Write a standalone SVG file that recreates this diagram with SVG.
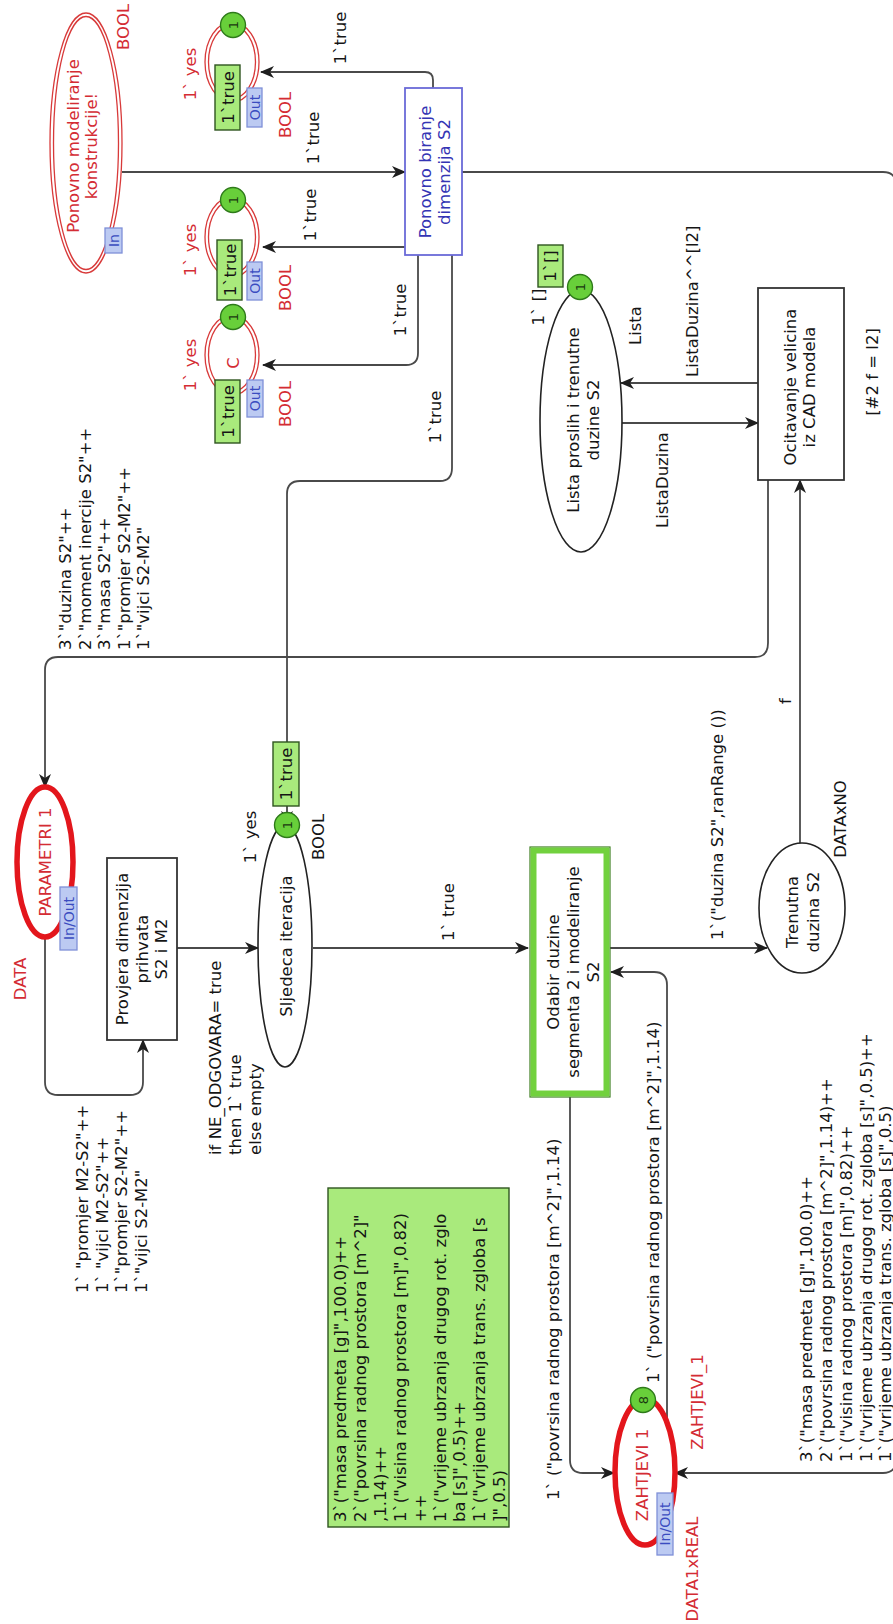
<svg xmlns="http://www.w3.org/2000/svg" width="893" height="1624" viewBox="0 0 893 1624">
<style>
.t{font-family:"DejaVu Sans","Liberation Sans",sans-serif;font-size:16.5px;fill:#151515}
.m{text-anchor:middle}
.red{fill:#d42c34}
.blu{fill:#3434b4}
.tag{font-family:"DejaVu Sans","Liberation Sans",sans-serif;font-size:14px;fill:#3a4cc0;text-anchor:middle}
.tagr{fill:#bccaf2;stroke:#7f90d8;stroke-width:1.3}
.arc{fill:none;stroke:#4a4a4a;stroke-width:1.8;marker-end:url(#ah)}
.dbl{fill:none;stroke:#d83a3a;stroke-width:1.3}
.pl{fill:#fff;stroke:#222;stroke-width:1.6}
.port{fill:#fff;stroke:#e3161c;stroke-width:5.5}
.tr{fill:#fff;stroke:#333;stroke-width:1.8}
.tok{fill:#68cf3a;stroke:#2e7a1a;stroke-width:1.4}
.tokt{font-family:"DejaVu Sans","Liberation Sans",sans-serif;font-size:13px;fill:#1a3a10;text-anchor:middle}
.mk{fill:#a9ea7c;stroke:#2f5520;stroke-width:1.4}
</style>
<defs>
<marker id="ah" viewBox="0 0 14 12" refX="13" refY="6" markerWidth="14" markerHeight="12" orient="auto" markerUnits="userSpaceOnUse">
<path d="M0,0 L14,6 L0,12 L4,6 z" fill="#1e1e1e"/>
</marker>
</defs>
<rect width="893" height="1624" fill="#fff"/>
<g transform="translate(0 1624) rotate(-90)">
<g id="connectors">
<path class="arc" d="M1452,122 L1452,405"/>
<path class="arc" d="M1536,433 L1544,433 Q1552,433 1552,425 L1552,261"/>
<path class="arc" d="M1377,405 L1377,263"/>
<path class="arc" d="M1369,418 L1271,418 Q1259,418 1259,406 L1259,263"/>
<path class="arc" d="M1369,452 L1156,452 Q1143,452 1143,440 L1143,300 Q1143,287 1130,287 L800,287"/>
<path class="arc" d="M1144,768 L981,768 Q967,768 967,755 L967,58 Q967,45 954,45 L837,45"/>
<path class="arc" d="M687,45 L542,45 Q529,45 529,58 L529,130 Q529,143 542,143 L584,143"/>
<path class="arc" d="M676,177 L676,258"/>
<path class="arc" d="M676,313 L676,528"/>
<path class="arc" d="M676,610 L676,767"/>
<path class="arc" d="M781,800 L1144,800"/>
<path class="arc" d="M1241,758 L1241,621"/>
<path class="arc" d="M1201,622 L1201,758"/>
<path class="arc" d="M1452,462 L1452,883 Q1452,896 1439,896 L164,896 Q151,896 151,883 L151,675"/>
<path class="arc" d="M527,570 L164,570 Q151,570 151,583 L151,614"/>
<path class="arc" d="M202,667 L639,667 Q652,667 652,654 L652,611"/>
<text class="t m" x="1486" y="319">1`true</text>
<text class="t m" x="1586" y="346">1`true</text>
<text class="t m" x="1409" y="316">1`true</text>
<text class="t m" x="1314" y="406">1`true</text>
<text class="t m" x="1207" y="441">1`true</text>
<text class="t" x="974" y="71">3`"duzina S2"++<tspan x="974" dy="19.5">2`"moment inercije S2"++</tspan><tspan x="974" dy="19.5">3`"masa S2"++</tspan><tspan x="974" dy="19.5">1`"promjer S2-M2"++</tspan><tspan x="974" dy="19.5">1`"vijci S2-M2"</tspan></text>
<text class="t" x="331" y="88">1` "promjer M2-S2"++<tspan x="331" dy="19.5">1` "vijci M2-S2"++</tspan><tspan x="331" dy="19.5">1`"promjer S2-M2"++</tspan><tspan x="331" dy="19.5">1`"vijci S2-M2"</tspan></text>
<text class="t" x="469" y="221">if NE_ODGOVARA= true<tspan x="469" dy="20">then 1` true</tspan><tspan x="469" dy="20">else empty</tspan></text>
<text class="t m" x="712" y="454">1` true</text>
<text class="t" x="684" y="723">1`("duzina S2",ranRange ())</text>
<text class="t" x="920" y="791">f</text>
<text class="t" x="1247" y="698">ListaDuzina^^[l2]</text>
<text class="t" x="1279" y="641">Lista</text>
<text class="t" x="1096" y="668">ListaDuzina</text>
<text class="t" x="162" y="812">3`("masa predmeta [g]",100.0)++<tspan x="162" dy="20">2`("povrsina radnog prostora [m^2]",1.14)++</tspan><tspan x="162" dy="20">1`("visina radnog prostora [m]",0.82)++</tspan><tspan x="162" dy="20">1`("vrijeme ubrzanja drugog rot. zgloba [s]",0.5)++</tspan><tspan x="162" dy="19">1`("vrijeme ubrzanja trans. zgloba [s]",0.5)</tspan></text>
<text class="t" x="124" y="559">1` ("povrsina radnog prostora [m^2]",1.14)</text>
<text class="t" x="241" y="659">1` ("povrsina radnog prostora [m^2]",1.14)</text>
</g>
<g id="nodes">
<g id="ponovno_modeliranje">
<ellipse cx="1481" cy="86" rx="130" ry="36" class="pl" style="stroke:none"/>
<ellipse cx="1481" cy="86" rx="130" ry="36" class="dbl"/>
<ellipse cx="1481" cy="86" rx="126.5" ry="32.5" class="dbl"/>
<text class="t m red" x="1478" y="79">Ponovno modeliranje<tspan x="1478" dy="17.5">konstrukcije!</tspan></text>
<rect class="tagr" x="1371" y="105" width="25" height="17"/>
<text class="tag" x="1383.5" y="118.5">In</text>
<text class="t m red" x="1597" y="129">BOOL</text>
</g>
<g id="ponovno_biranje">
<rect x="1369" y="405" width="167" height="57" fill="#fff" stroke="#6a6ad8" stroke-width="1.8"/>
<text class="t m blu" x="1452" y="431">Ponovno biranje<tspan x="1452" dy="19">dimenzija S2</tspan></text>
</g>
<g id="place_a">
<ellipse cx="1562" cy="232" rx="40" ry="27" fill="#fff"/>
<ellipse cx="1562" cy="232" rx="40" ry="27" class="dbl"/>
<ellipse cx="1562" cy="232" rx="36.5" ry="23.5" class="dbl"/>
<circle class="tok" cx="1599" cy="233" r="12.5"/>
<text class="tokt" x="1599" y="237.5">1</text>
<rect class="mk" x="1494" y="215" width="65" height="25"/>
<text class="t m" x="1526.5" y="233.5">1`true</text>
<rect class="tagr" x="1497" y="247" width="39" height="15"/>
<text class="tag" x="1516.5" y="259.5">Out</text>
<text class="t m red" x="1509" y="291">BOOL</text>
<text class="t m red" x="1550" y="196">1` yes</text>
</g>
<g id="place_b">
<ellipse cx="1387" cy="232" rx="40" ry="27" fill="#fff"/>
<ellipse cx="1387" cy="232" rx="40" ry="27" class="dbl"/>
<ellipse cx="1387" cy="232" rx="36.5" ry="23.5" class="dbl"/>
<circle class="tok" cx="1424" cy="233" r="12.5"/>
<text class="tokt" x="1424" y="237.5">1</text>
<rect class="mk" x="1324" y="217" width="60" height="25"/>
<text class="t m" x="1354" y="235.5">1`true</text>
<rect class="tagr" x="1324" y="247" width="38" height="15"/>
<text class="tag" x="1343" y="259.5">Out</text>
<text class="t m red" x="1336" y="291">BOOL</text>
<text class="t m red" x="1374" y="196">1` yes</text>
</g>
<g id="place_c">
<ellipse cx="1269" cy="232" rx="40" ry="27" fill="#fff"/>
<ellipse cx="1269" cy="232" rx="40" ry="27" class="dbl"/>
<ellipse cx="1269" cy="232" rx="36.5" ry="23.5" class="dbl"/>
<circle class="tok" cx="1307" cy="233" r="12.5"/>
<text class="tokt" x="1307" y="237.5">1</text>
<text class="t m red" x="1261" y="239">C</text>
<rect class="mk" x="1181" y="215" width="63" height="25"/>
<text class="t m" x="1212.5" y="233.5">1`true</text>
<rect class="tagr" x="1207" y="247" width="37" height="16"/>
<text class="tag" x="1225.5" y="260">Out</text>
<text class="t m red" x="1220" y="291">BOOL</text>
<text class="t m red" x="1259" y="196">1` yes</text>
</g>
<g id="parametri">
<ellipse class="port" cx="762" cy="45" rx="75" ry="28"/>
<text class="t m red" x="762" y="51">PARAMETRI 1</text>
<rect class="tagr" x="674" y="60" width="63" height="17"/>
<text class="tag" x="705.5" y="73.5">In/Out</text>
<text class="t m red" x="645" y="26">DATA</text>
</g>
<g id="provjera">
<rect class="tr" x="584" y="107" width="182" height="70"/>
<text class="t m" x="675" y="128">Provjera dimenzija<tspan x="675" dy="19.5">prihvata</tspan><tspan x="675" dy="19.5">S2 i M2</tspan></text>
</g>
<g id="sljedeca">
<ellipse class="pl" cx="678" cy="285" rx="121" ry="27"/>
<text class="t m" x="678" y="292">Sljedeca iteracija</text>
<circle class="tok" cx="799" cy="287" r="12.5"/>
<text class="tokt" x="799" y="291.5">1</text>
<rect class="mk" x="818" y="273" width="64" height="26"/>
<text class="t m" x="850" y="292">1`true</text>
<text class="t m" x="787" y="256">1` yes</text>
<text class="t m" x="787" y="324">BOOL</text>
</g>
<g id="odabir">
<rect x="527" y="530" width="250" height="80" fill="#fff" stroke="#3f7f22" stroke-width="1.2"/>
<rect x="530.5" y="533.5" width="243" height="73" fill="none" stroke="#72d13e" stroke-width="6"/>
<text class="t m" x="652" y="559">Odabir duzine<tspan x="652" dy="20">segmenta 2 i modeliranje</tspan><tspan x="652" dy="20">S2</tspan></text>
</g>
<g id="trenutna">
<ellipse class="pl" cx="716" cy="802" rx="65" ry="43"/>
<text class="t m" x="712" y="798">Trenutna<tspan x="712" dy="21">duzina S2</tspan></text>
<text class="t m" x="805" y="846">DATAxNO</text>
</g>
<g id="ocitavanje">
<rect class="tr" x="1144" y="758" width="192" height="86"/>
<text class="t m" x="1237" y="796">Ocitavanje velicina<tspan x="1237" dy="19">iz CAD modela</tspan></text>
<text class="t m" x="1252" y="878">[#2 f = l2]</text>
</g>
<g id="lista">
<ellipse class="pl" cx="1203" cy="581" rx="131" ry="41"/>
<text class="t m" x="1204" y="579">Lista proslih i trenutne<tspan x="1204" dy="20">duzine S2</tspan></text>
<circle class="tok" cx="1337" cy="580" r="12.5"/>
<text class="tokt" x="1337" y="584.5">1</text>
<rect class="mk" x="1337" y="538" width="42" height="25"/>
<text class="t m" x="1358" y="556">1`[]</text>
<text class="t m" x="1317" y="544">1` []</text>
</g>
<g id="zahtjevi">
<ellipse class="port" cx="152" cy="645" rx="73" ry="30"/>
<text class="t m red" x="149" y="648">ZAHTJEVI 1</text>
<circle class="tok" cx="224" cy="643" r="12.5"/>
<text class="tokt" x="224" y="647.5">8</text>
<text class="t m red" x="222" y="703">ZAHTJEVI_1</text>
<rect class="tagr" x="69" y="657" width="62" height="16"/>
<text class="tag" x="100" y="670">In/Out</text>
<text class="t m red" x="55" y="698">DATA1xREAL</text>
</g>
<g id="zahtjevi_marking">
<rect class="mk" x="97" y="328" width="339" height="181"/>
<text class="t" x="102" y="346">3`("masa predmeta [g]",100.0)++<tspan x="102" dy="19.9">2`("povrsina radnog prostora [m^2]"</tspan><tspan x="102" dy="19.9">,1.14)++</tspan><tspan x="102" dy="19.9">1`("visina radnog prostora [m]",0.82)</tspan><tspan x="102" dy="19.9">++</tspan><tspan x="102" dy="19.9">1`("vrijeme ubrzanja drugog rot. zglo</tspan><tspan x="102" dy="19.9">ba [s]",0.5)++</tspan><tspan x="102" dy="19.9">1`("vrijeme ubrzanja trans. zgloba [s</tspan><tspan x="102" dy="19.9">]",0.5)</tspan></text>
</g>
</g>
</g>
</svg>
